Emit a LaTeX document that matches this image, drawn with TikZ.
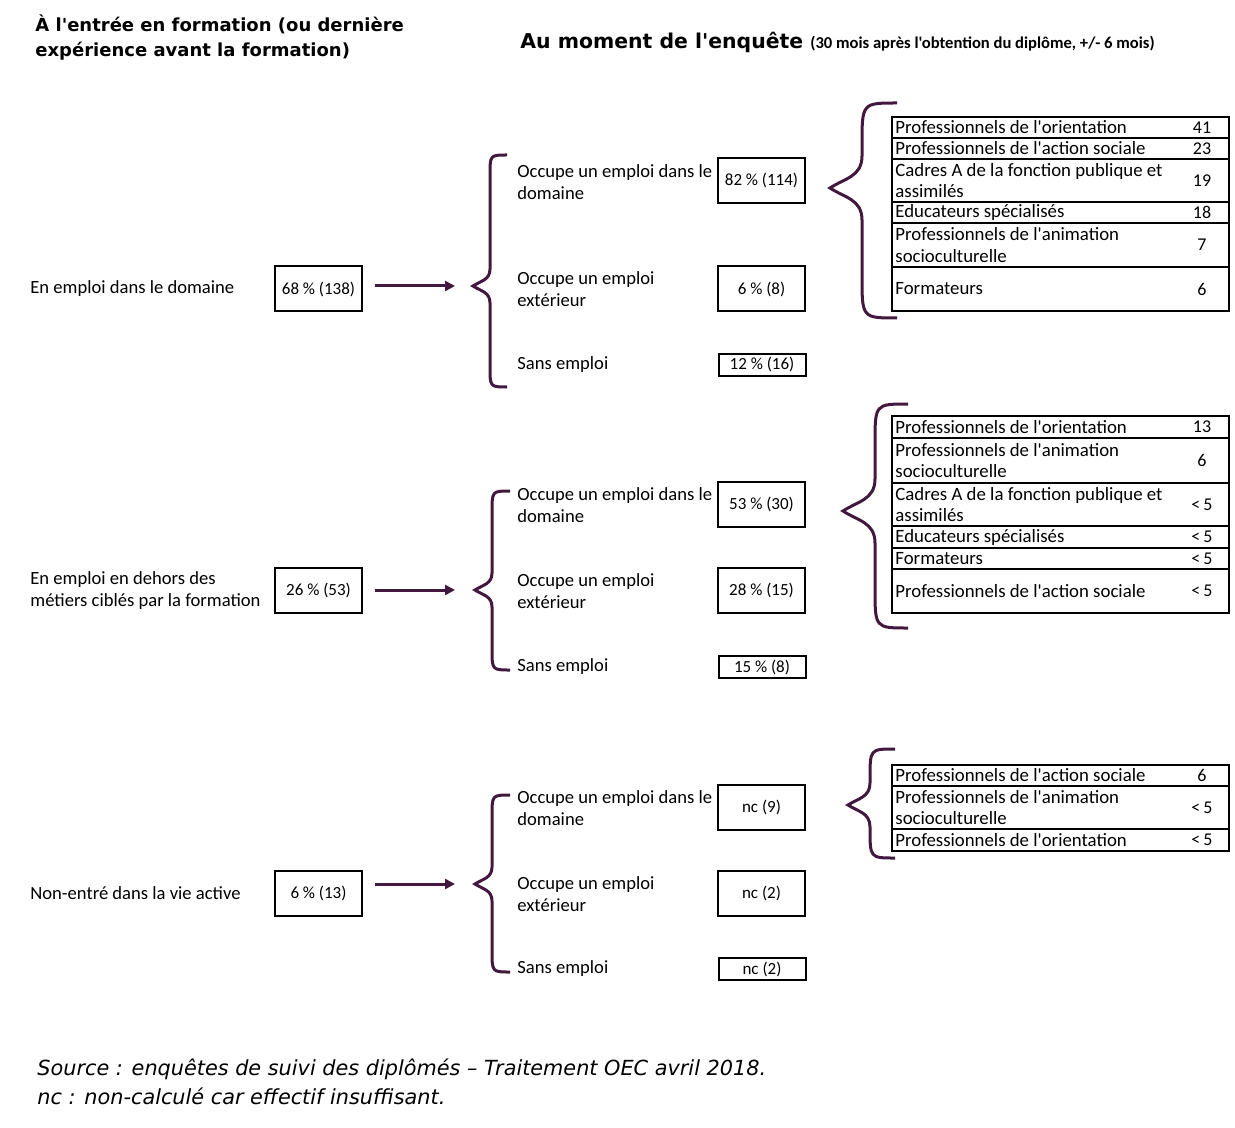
\documentclass[tikz,border=0pt]{standalone}
\usepackage{fontspec}
\setmainfont{Carlito}[Ligatures=TeXOff]
\newfontfamily\verdana{DejaVu Sans}[Ligatures=TeXOff]
\usetikzlibrary{arrows.meta}
\definecolor{plum}{RGB}{66,24,62}

% curly brace: end x, spine x, tip x, top y, tip y, bottom y
\newcommand\curly[6]{%
  \pgfmathsetmacro\ra{1.2*(#1-#2)}%
  \pgfmathsetmacro\rb{1.0*(#2-#3)}%
  \draw[curl] (#1,#4) .. controls (#2,#4) .. (#2,{#4+\ra}) -- (#2,{#5-\rb})
    .. controls (#2,{#5-0.35*\rb}) and ({#3+0.45*\rb},{#5-0.3*\rb}) .. (#3,#5)
    .. controls ({#3+0.45*\rb},{#5+0.3*\rb}) and (#2,{#5+0.35*\rb}) .. (#2,{#5+\rb})
    -- (#2,{#6-\ra}) .. controls (#2,#6) .. (#1,#6);}

\begin{document}
\begin{tikzpicture}[x=0.5pt,y=-0.5pt,font=\fontsize{9.3}{11}\selectfont,
    every node/.style={inner sep=0pt}]
  \tikzstyle{pct} = [draw,line width=1pt,minimum width=43.5pt,minimum height=22.5pt,font=\fontsize{8.5}{10}\selectfont]
  \tikzstyle{pctsmall} = [pct,minimum height=11pt]
  \tikzstyle{lbl} = [anchor=west,align=left]
  \tikzstyle{cell} = [anchor=west,align=left,font=\fontsize{9.4}{10.7}\selectfont]
  \tikzstyle{num} = [font=\fontsize{9}{10}\selectfont]
  \tikzstyle{row} = [draw,line width=1pt,anchor=north west,minimum width=168.5pt]
  \tikzstyle{curl} = [draw=plum,line width=1.5pt]
  \tikzstyle{flow} = [plum,line width=1.5pt,-{Triangle[length=5pt,width=5pt]},shorten <=6pt]
  \useasboundingbox (0,0) rectangle (1235,1128);

  % headings
  \node[anchor=west,align=left,font=\verdana\bfseries\fontsize{9}{12.5}\selectfont] (head1) at (35,38)
    {À l'entrée en formation (ou dernière\\expérience avant la formation)};
  \node[anchor=west,font=\verdana\bfseries\fontsize{10.2}{12}\selectfont] (head2) at (520,42)
    {Au moment de l'enquête {\normalfont\bfseries\fontsize{8.3}{10}\selectfont (30 mois après l'obtention du diplôme, +/- 6 mois)}};

  % group 1
  \node[lbl] (l1) at (30,289) {En emploi dans le domaine};
  \node[pct] (a1) at (318.5,289) {68~\% (138)};
  \coordinate (in1) at (455,286);
  \draw[flow] (a1.east |- in1) -- (in1);
  \curly{507}{490}{473}{155}{286}{387}
  \node[lbl] (m11) at (517,182) {Occupe un emploi dans le\\domaine};
  \node[lbl] (m12) at (517,289) {Occupe un emploi\\extérieur};
  \node[lbl] (m13) at (517,365) {Sans emploi};
  \node[pct] (p11) at (761.5,180.5) {82~\% (114)};
  \node[pct] (p12) at (761.5,289) {6~\% (8)};
  \node[pctsmall] (p13) at (762,364.5) {12~\% (16)};
  \curly{897}{862}{830}{103}{188}{318}
  \foreach \y/\h/\txt/\n [count=\i] in {116/21/{Professionnels de l'orientation}/41,
      137/21/{Professionnels de l'action sociale}/23,
      158/43/{Cadres A de la fonction publique et\\assimilés}/19,
      201/21/{Educateurs spécialisés}/18,
      222/44/{Professionnels de l'animation\\socioculturelle}/7,
      266/44/{Formateurs}/6}
  {
    \node[row,minimum height=\h*0.5pt] (ta\i) at (891,\y) {};
    \node[cell] (ta\i-t) at ([xshift=2pt]ta\i.west) {\txt};
    \node[num] (ta\i-n) at ([xshift=-14pt]ta\i.east) {\n};
  }

  % group 2
  \node[lbl] (l2) at (30,591) {En emploi en dehors des\\métiers ciblés par la formation};
  \node[pct] (a2) at (318.5,590) {26~\% (53)};
  \coordinate (in2) at (455,590);
  \draw[flow] (a2.east |- in2) -- (in2);
  \curly{510}{492}{475}{491}{590}{670}
  \node[lbl] (m21) at (517,505) {Occupe un emploi dans le\\domaine};
  \node[lbl] (m22) at (517,591) {Occupe un emploi\\extérieur};
  \node[lbl] (m23) at (517,667) {Sans emploi};
  \node[pct] (p21) at (761.5,504.5) {53~\% (30)};
  \node[pct] (p22) at (761.5,590) {28~\% (15)};
  \node[pctsmall] (p23) at (762,667) {15~\% (8)};
  \curly{908}{875}{843}{404}{511}{628}
  \foreach \y/\h/\txt/\n [count=\i] in {415/22/{Professionnels de l'orientation}/13,
      437/45/{Professionnels de l'animation\\socioculturelle}/6,
      482/43/{Cadres A de la fonction publique et\\assimilés}/{<\,5},
      525/22/{Educateurs spécialisés}/{<\,5},
      547/21/{Formateurs}/{<\,5},
      568/44/{Professionnels de l'action sociale}/{<\,5}}
  {
    \node[row,minimum height=\h*0.5pt] (tb\i) at (891,\y) {};
    \node[cell] (tb\i-t) at ([xshift=2pt]tb\i.west) {\txt};
    \node[num] (tb\i-n) at ([xshift=-14pt]tb\i.east) {\n};
  }

  % group 3
  \node[lbl] (l3) at (30,893) {Non-entré dans la vie active};
  \node[pct] (a3) at (318.5,893) {6~\% (13)};
  \coordinate (in3) at (455,884);
  \draw[flow] (a3.east |- in3) -- (in3);
  \curly{510}{492}{475}{795}{884}{972}
  \node[lbl] (m31) at (517,808) {Occupe un emploi dans le\\domaine};
  \node[lbl] (m32) at (517,894) {Occupe un emploi\\extérieur};
  \node[lbl] (m33) at (517,969) {Sans emploi};
  \node[pct] (p31) at (761.5,807.5) {nc (9)};
  \node[pct] (p32) at (761.5,893) {nc (2)};
  \node[pctsmall] (p33) at (762,969) {nc (2)};
  \curly{895}{870}{848}{749}{805}{858}
  \foreach \y/\h/\txt/\n [count=\i] in {764/21/{Professionnels de l'action sociale}/6,
      785/43/{Professionnels de l'animation\\socioculturelle}/{<\,5},
      828/22/{Professionnels de l'orientation}/{<\,5}}
  {
    \node[row,minimum height=\h*0.5pt] (tc\i) at (891,\y) {};
    \node[cell] (tc\i-t) at ([xshift=2pt]tc\i.west) {\txt};
    \node[num] (tc\i-n) at ([xshift=-14pt]tc\i.east) {\n};
  }

  % source
  \node[anchor=west,align=left,font=\verdana\itshape\fontsize{10.4}{14.5}\selectfont] (src) at (37,1082)
    {Source : enquêtes de suivi des diplômés – Traitement OEC avril 2018.\\nc : non-calculé car effectif insuffisant.};
\end{tikzpicture}
\end{document}
